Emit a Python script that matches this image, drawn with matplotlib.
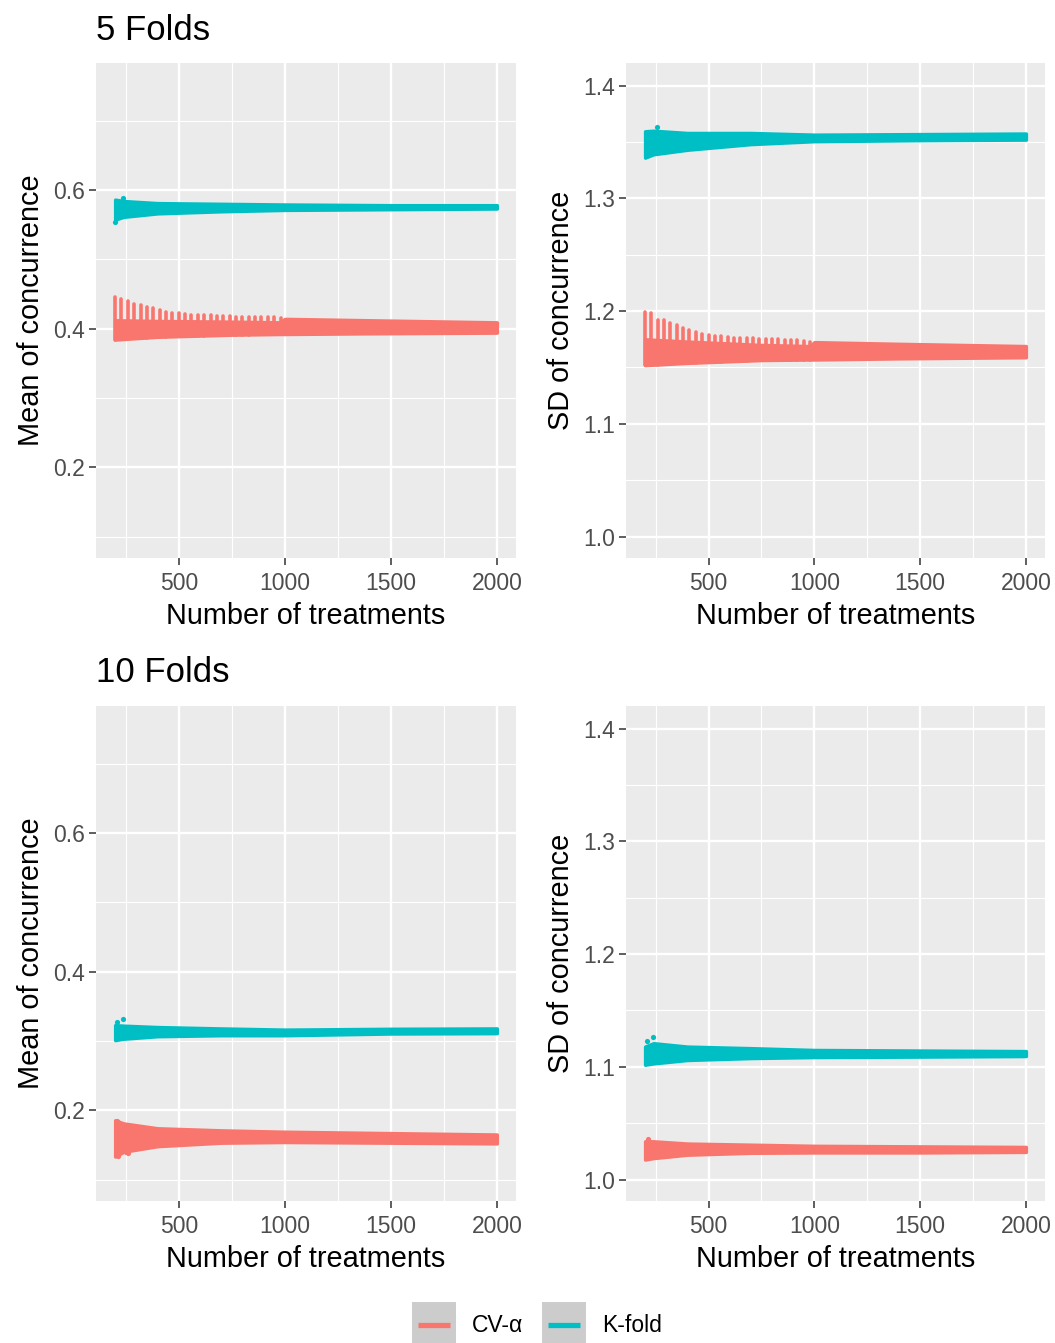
import matplotlib
matplotlib.use("Agg")
import matplotlib.pyplot as plt
from matplotlib.patches import Rectangle
import numpy as np

plt.rcParams["font.family"] = ["Liberation Sans", "DejaVu Sans"]

W, H = 1055, 1343
CV_COLOR = "#F8766D"
KF_COLOR = "#00BFC4"

# ---- data (band envelopes of the point clouds) ----
env_x = [200, 240, 400, 700, 1000, 1500, 2000]

# 5 folds, K-fold
kf5_mean_lo = [0.557, 0.561, 0.566, 0.569, 0.571, 0.572, 0.573]
kf5_mean_hi = [0.586, 0.584, 0.581, 0.580, 0.579, 0.578, 0.578]
kf5_sd_lo = [1.336, 1.339, 1.343, 1.348, 1.3506, 1.3515, 1.352]
kf5_sd_hi = [1.3595, 1.360, 1.358, 1.358, 1.3565, 1.357, 1.3575]

# 5 folds, CV-alpha (body of the band + saw teeth on top)
cv5_env_x = [200, 400, 750, 980, 1000, 1400, 2000]
cv5_mean_lo = [0.384, 0.388, 0.391, 0.392, 0.392, 0.393, 0.394]
cv5_mean_hi = [0.412, 0.411, 0.410, 0.409, 0.414, 0.412, 0.409]
cv5_sd_lo = [1.152, 1.154, 1.1565, 1.157, 1.157, 1.158, 1.159]
cv5_sd_hi = [1.175, 1.173, 1.170, 1.169, 1.1725, 1.171, 1.169]

teeth_x = [200, 230, 260, 290, 320, 350, 380, 410, 440, 470, 500, 530, 560, 590,
           620, 650, 680, 710, 740, 770, 800, 830, 860, 890, 920, 950, 980]
cv5_mean_teeth = [0.445, 0.442, 0.439, 0.436, 0.434, 0.431, 0.429, 0.426, 0.424,
                  0.423, 0.422, 0.421, 0.420, 0.420, 0.419, 0.419, 0.418, 0.418,
                  0.418, 0.417, 0.417, 0.417, 0.417, 0.416, 0.416, 0.416, 0.415]
cv5_sd_teeth = [1.1994, 1.198, 1.192, 1.192, 1.189, 1.1876, 1.1847, 1.183, 1.1817,
                1.180, 1.1787, 1.178, 1.1775, 1.177, 1.1765, 1.176, 1.176, 1.1758,
                1.1755, 1.1752, 1.175, 1.1748, 1.1745, 1.174, 1.174, 1.1735, 1.173]

# 10 folds
kf10_mean_lo = [0.301, 0.303, 0.3066, 0.308, 0.308, 0.3105, 0.311]
kf10_mean_hi = [0.3227, 0.322, 0.320, 0.318, 0.3163, 0.3175, 0.318]
cv10_mean_lo = [0.133, 0.140, 0.148, 0.153, 0.154, 0.153, 0.152]
cv10_mean_hi = [0.1856, 0.181, 0.174, 0.171, 0.169, 0.167, 0.165]
kf10_sd_lo = [1.1018, 1.103, 1.106, 1.1077, 1.1086, 1.109, 1.1095]
kf10_sd_hi = [1.118, 1.121, 1.118, 1.1166, 1.115, 1.1145, 1.114]
cv10_sd_lo = [1.0177, 1.019, 1.022, 1.0237, 1.024, 1.024, 1.0245]
cv10_sd_hi = [1.034, 1.034, 1.032, 1.031, 1.030, 1.0295, 1.029]

# stray points sticking out of the clouds
kf5_mean_out = ([200, 238], [0.553, 0.588])
kf5_sd_out = ([255], [1.363])
kf10_mean_out = ([211, 237], [0.3275, 0.332])
cv10_mean_out = ([211, 205, 215, 250, 262], [0.1846, 0.135, 0.134, 0.139, 0.138])
kf10_sd_out = ([211, 237], [1.1233, 1.1263])
cv10_sd_out = ([216], [1.036])

x_ticks = [500, 1000, 1500, 2000]
x_minor = [250, 750, 1250, 1750]
mean_ticks = [0.2, 0.4, 0.6]
mean_minor = [0.1, 0.3, 0.5, 0.7]
sd_ticks = [1.0, 1.1, 1.2, 1.3, 1.4]
sd_minor = [1.05, 1.15, 1.25, 1.35]


def px_axes(fig, left, top, right, bottom):
    return fig.add_axes([left / W, 1 - bottom / H, (right - left) / W, (bottom - top) / H])


def style_axes(ax, ylim, yticks, yminor, ylabel):
    ax.set_facecolor("#EBEBEB")
    ax.set_xlim(110, 2090)
    ax.set_ylim(*ylim)
    ax.set_xticks(x_ticks)
    ax.set_xticks(x_minor, minor=True)
    ax.set_yticks(yticks)
    ax.set_yticks(yminor, minor=True)
    ax.set_yticklabels([f"{v:.1f}" for v in yticks])
    ax.grid(which="major", color="white", lw=1.7)
    ax.grid(which="minor", color="white", lw=0.85)
    ax.set_axisbelow(True)
    for s in ax.spines.values():
        s.set_visible(False)
    ax.tick_params(which="major", length=5, width=1.1, color="#333333",
                   labelsize=16.5, labelcolor="#4D4D4D", pad=3)
    ax.tick_params(axis="x", which="major", pad=5)
    ax.tick_params(which="minor", length=0)
    ax.set_xlabel("Number of treatments", fontsize=20.8, labelpad=5)
    ax.set_ylabel(ylabel, fontsize=20.8, labelpad=6)


def band(ax, x, lo, hi, color):
    ax.fill_between(x, lo, hi, color=color, edgecolor=color, lw=2.4, zorder=3)


def teeth(ax, x, base_x, base_lo, tops, color):
    base = np.interp(x, base_x, base_lo)
    ax.vlines(x, base, tops, color=color, lw=2.6, capstyle="round", zorder=3)


def strays(ax, pts, color):
    ax.scatter(pts[0], pts[1], s=14, color=color, lw=0, zorder=4)


fig = plt.figure(figsize=(W / 100, H / 100), dpi=100)

ax1 = px_axes(fig, 96, 63, 516, 558)
ax2 = px_axes(fig, 626, 63, 1045, 558)
ax3 = px_axes(fig, 96, 706, 516, 1201)
ax4 = px_axes(fig, 626, 706, 1045, 1201)

mean_lim = (0.069, 0.783)
sd_lim = (0.981, 1.420)
style_axes(ax1, mean_lim, mean_ticks, mean_minor, "Mean of concurrence")
style_axes(ax2, sd_lim, sd_ticks, sd_minor, "SD of concurrence")
style_axes(ax3, mean_lim, mean_ticks, mean_minor, "Mean of concurrence")
style_axes(ax4, sd_lim, sd_ticks, sd_minor, "SD of concurrence")

# 5 folds
band(ax1, cv5_env_x, cv5_mean_lo, cv5_mean_hi, CV_COLOR)
teeth(ax1, teeth_x, cv5_env_x, cv5_mean_lo, cv5_mean_teeth, CV_COLOR)
band(ax1, env_x, kf5_mean_lo, kf5_mean_hi, KF_COLOR)
strays(ax1, kf5_mean_out, KF_COLOR)

band(ax2, cv5_env_x, cv5_sd_lo, cv5_sd_hi, CV_COLOR)
teeth(ax2, teeth_x, cv5_env_x, cv5_sd_lo, cv5_sd_teeth, CV_COLOR)
band(ax2, env_x, kf5_sd_lo, kf5_sd_hi, KF_COLOR)
strays(ax2, kf5_sd_out, KF_COLOR)

# 10 folds
band(ax3, env_x, cv10_mean_lo, cv10_mean_hi, CV_COLOR)
strays(ax3, cv10_mean_out, CV_COLOR)
band(ax3, env_x, kf10_mean_lo, kf10_mean_hi, KF_COLOR)
strays(ax3, kf10_mean_out, KF_COLOR)

band(ax4, env_x, cv10_sd_lo, cv10_sd_hi, CV_COLOR)
strays(ax4, cv10_sd_out, CV_COLOR)
band(ax4, env_x, kf10_sd_lo, kf10_sd_hi, KF_COLOR)
strays(ax4, kf10_sd_out, KF_COLOR)

fig.text(96 / W, 1 - 30 / H, "5 Folds", fontsize=25, ha="left", va="center")
fig.text(96 / W, 1 - 673 / H, "10 Folds", fontsize=25, ha="left", va="center")

# legend drawn in pixel coordinates at the bottom
leg = fig.add_axes([0, 0, 1, 1], zorder=-1)
leg.set_xlim(0, W)
leg.set_ylim(H, 0)
leg.axis("off")
for (kx, label, color) in [(412, "CV-α", CV_COLOR), (542, "K-fold", KF_COLOR)]:
    leg.add_patch(Rectangle((kx, 1302), 44, 46, facecolor="#CCCCCC", edgecolor="none"))
    leg.plot([kx + 6, kx + 38], [1325, 1325], color=color, lw=3.8, solid_capstyle="butt")
    leg.text(kx + 60, 1325, label, fontsize=16.5, ha="left", va="center")

fig.savefig("out.png", dpi=100)
